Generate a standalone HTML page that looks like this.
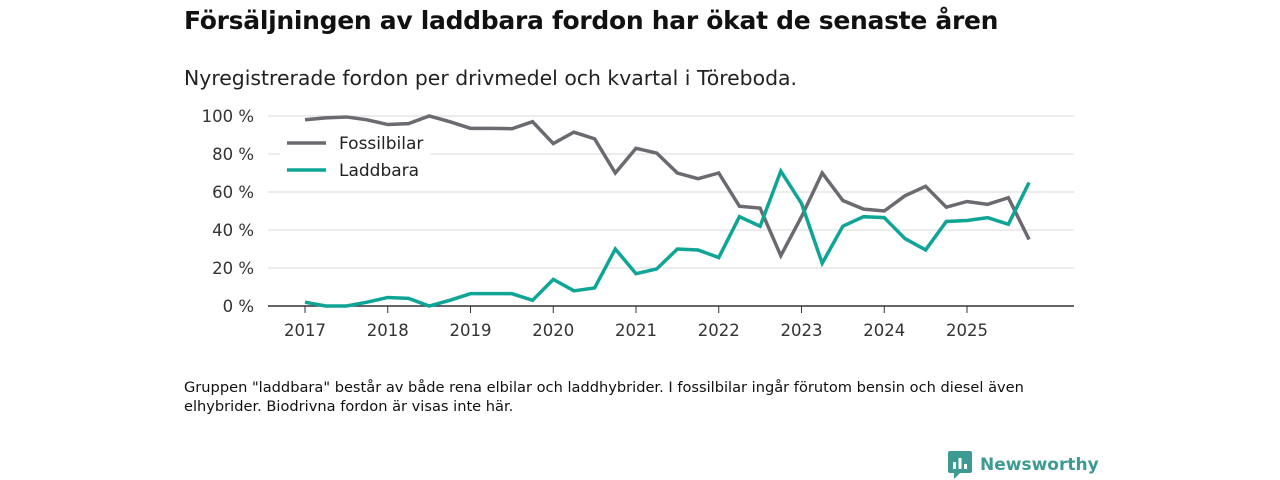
<!DOCTYPE html>
<html><head><meta charset="utf-8"><style>
body{margin:0;width:1280px;height:480px;background:#fff;font-family:"Liberation Sans","DejaVu Sans",sans-serif;position:relative;overflow:hidden;color:#111}
.t{position:absolute;left:184px;top:6px;font-size:25px;font-weight:bold;font-family:"DejaVu Sans",sans-serif;letter-spacing:-0.3px}
.s{position:absolute;left:184px;top:66px;font-size:20.4px;font-family:"DejaVu Sans",sans-serif;color:#222}
.f{position:absolute;left:184px;top:378px;font-size:14.6px;line-height:19px;color:#111;width:900px;font-family:"DejaVu Sans",sans-serif}
</style></head><body>
<div class="t">Försäljningen av laddbara fordon har ökat de senaste åren</div>
<div class="s">Nyregistrerade fordon per drivmedel och kvartal i Töreboda.</div>
<svg id="c" width="1280" height="480" style="position:absolute;left:0;top:0"></svg>
<div class="f">Gruppen "laddbara" består av både rena elbilar och laddhybrider. I fossilbilar ingår förutom bensin och diesel även elhybrider. Biodrivna fordon är visas inte här.</div>
<div style="position:absolute;left:948px;top:451px;display:flex;align-items:center">
<svg width="24" height="28"><rect x="0" y="0" width="24" height="22" rx="2" fill="#3d9a93"/><polygon points="6,22 12,22 6,28" fill="#3d9a93"/><rect x="5" y="11" width="3" height="7" fill="#fff"/><rect x="10.5" y="7" width="3" height="11" fill="#fff"/><rect x="16" y="13" width="3" height="5" fill="#fff"/></svg>
<span style="margin-left:8px;font-size:17px;font-weight:bold;color:#3d9a93;font-family:'DejaVu Sans',sans-serif">Newsworthy</span></div>
<script>
const fossil=[98,99,99.5,98,95.5,96,100,97,93.5,93.5,93.3,97,85.5,91.5,88,70,83,80.5,70,67,70,52.5,51.5,26.5,47,70,55.5,51,50,58,63,52,55,53.5,57,35];
const laddbara=[2,0,0,2,4.5,4,0,3,6.5,6.5,6.5,3,14,8,9.5,30,17,19.5,30,29.5,25.5,47,42,71,54,22.5,42,47,46.5,35.5,29.5,44.5,45,46.5,43,65];
const yTicks=[0,20,40,60,80,100];
const years=[2017,2018,2019,2020,2021,2022,2023,2024,2025];
const NS="http://www.w3.org/2000/svg",svg=document.getElementById('c');
const x=i=>305+i*(967-305)/32, y=v=>306-v*1.9;
function mk(t,a){const e=document.createElementNS(NS,t);for(const k in a)e.setAttribute(k,a[k]);svg.appendChild(e);return e;}
yTicks.forEach(v=>{
 if(v>0){const g=mk('line',{x1:268,x2:1074,y1:y(v),y2:y(v),stroke:'#d8d8d8','stroke-width':1});
 
 }
 const t=mk('text',{x:254,y:y(v)+6,'text-anchor':'end','font-size':16.5,fill:'#333','font-family':'DejaVu Sans,sans-serif'});t.textContent=v+' %';
 
 
});
const ax=mk('line',{x1:268,x2:1074,y1:306,y2:306,stroke:'#333','stroke-width':1.5});


years.forEach((yr,k)=>{const xx=x(k*4);
 mk('line',{x1:xx,x2:xx,y1:306,y2:313,stroke:'#333','stroke-width':1});
 const t=mk('text',{x:xx,y:336,'text-anchor':'middle','font-size':16.5,fill:'#333','font-family':'DejaVu Sans,sans-serif'});t.textContent=yr;
 
 
});
function line(d,col,name){const p=mk('polyline',{points:d.map((v,i)=>x(i)+','+y(v)).join(' '),fill:'none',stroke:col,'stroke-width':3.5,'stroke-linejoin':'miter'});
 
 }
line(fossil,'#6b6a70','fossilbilar-line');
line(laddbara,'#0fa596','laddbara-line');
mk('rect',{x:280,y:128,width:150,height:58,fill:'#fff'});
[['Fossilbilar','#6b6a70',143],['Laddbara','#0fa596',170]].forEach(([n,c,yy])=>{
 mk('line',{x1:287,x2:326,y1:yy,y2:yy,stroke:c,'stroke-width':3.5});
 const t=mk('text',{x:339,y:yy+6,'font-size':17,fill:'#222','font-family':'DejaVu Sans,sans-serif'});t.textContent=n;
 
 
});
</script>
</body></html>
